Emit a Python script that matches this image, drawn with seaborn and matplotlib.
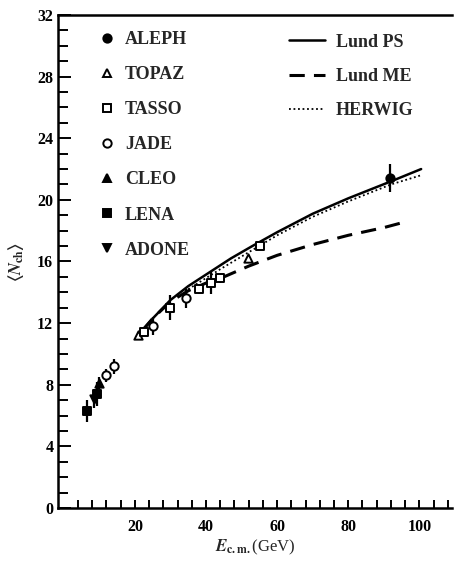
import numpy as np
import pandas as pd
import matplotlib
matplotlib.use("Agg")
import matplotlib.pyplot as plt
from matplotlib.lines import Line2D
import seaborn as sns

# ---- data ----
aleph_x = [91.7]; aleph_y = [21.4]; aleph_e = [0.9]
topaz_x = [21.0, 51.8]; topaz_y = [11.2, 16.2]; topaz_e = [0.0, 0.0]
tasso_x = [22.6, 30.0, 38.0, 41.3, 44.0, 55.2]; tasso_y = [11.4, 13.0, 14.2, 14.6, 14.9, 17.0]
tasso_e = [0.2, 0.8, 0.3, 0.7, 0.3, 0.2]
jade_x = [12.0, 14.0, 25.2, 34.5]; jade_y = [8.6, 9.2, 11.8, 13.6]; jade_e = [0.4, 0.5, 0.6, 0.6]
cleo_x = [10.0]; cleo_y = [8.1]; cleo_e = [0.4]
lena_x = [6.6, 9.2]; lena_y = [6.3, 7.4]; lena_e = [0.7, 0.8]
adone_x = [8.6]; adone_y = [7.1]; adone_e = [0.6]

ps_x = [20.5, 25, 30, 35, 41, 47, 53, 60, 70, 80, 92, 100.5]
ps_y = [11.1, 12.3, 13.5, 14.4, 15.3, 16.2, 17.0, 17.9, 19.1, 20.1, 21.2, 22.0]
me_x = [22, 25, 30, 35, 40, 45, 52, 60, 70, 80, 90, 96.5]
me_y = [11.5, 12.3, 13.4, 14.1, 14.6, 15.0, 15.7, 16.4, 17.1, 17.7, 18.2, 18.6]
hw_x = [35, 44, 52, 60, 70, 80, 92, 100.5]
hw_y = [14.2, 15.5, 16.6, 17.7, 18.9, 19.9, 21.0, 21.6]

sns.set_style("ticks")
plt.rcParams['font.family'] = ['Liberation Serif', 'DejaVu Serif']
plt.rcParams['mathtext.fontset'] = 'stix'
plt.rcParams['font.weight'] = 'bold'

fig = plt.figure(figsize=(4.54, 5.66), dpi=100)
ax = fig.add_axes([0.128, 0.1025, 0.867, 0.871])

# curves
sns.lineplot(x=ps_x, y=ps_y, ax=ax, color='black', lw=1.8, linestyle='-', sort=False)
sns.lineplot(x=me_x, y=me_y, ax=ax, color='black', lw=2.2, sort=False, dashes=False)
ax.lines[-1].set_dashes((5, 3))
sns.lineplot(x=hw_x, y=hw_y, ax=ax, color='black', lw=1.3, sort=False)
ax.lines[-1].set_linestyle((0, (1, 1.5)))

series = [
    (aleph_x, aleph_y, aleph_e, 'o', 'black'),
    (topaz_x, topaz_y, topaz_e, '^', 'white'),
    (tasso_x, tasso_y, tasso_e, 's', 'white'),
    (jade_x, jade_y, jade_e, 'o', 'white'),
    (cleo_x, cleo_y, cleo_e, '^', 'black'),
    (lena_x, lena_y, lena_e, 's', 'black'),
    (adone_x, adone_y, adone_e, 'v', 'black'),
]
for xs, ys, es, m, fc in series:
    ax.errorbar(xs, ys, yerr=es, fmt='none', ecolor='black', elinewidth=1.6, capsize=0, zorder=3)
    sns.scatterplot(x=xs, y=ys, ax=ax, marker=m, s=36, color=fc, edgecolor='black',
                    linewidth=1.4, zorder=4)

ax.set_xlim(-1.6, 109.1)
ax.set_ylim(0, 32)
ax.set_xticks([20, 40, 60, 80, 100])
ax.set_xticks(np.arange(4, 109, 4), minor=True)
ax.set_yticks(np.arange(0, 33, 4))
ax.set_yticks(np.arange(0, 33, 1), minor=True)
ax.tick_params(which='both', direction='in', width=1.4, colors='black')
ax.tick_params(axis='y', which='major', length=9, labelsize=11.5)
ax.tick_params(axis='y', which='minor', length=7)
ax.tick_params(axis='x', which='major', length=6, labelsize=11.5, pad=8)
ax.tick_params(axis='x', which='minor', length=6)
for lab in ax.get_xticklabels() + ax.get_yticklabels():
    lab.set_fontweight('bold')
for s in ['left', 'bottom', 'top']:
    ax.spines[s].set_linewidth(1.8)
    ax.spines[s].set_color('black')
ax.spines['right'].set_visible(False)

ax.set_xlabel(r'$E_{\mathrm{c.m.}}$(GeV)', fontsize=12, labelpad=2)
ax.set_ylabel(r'$\langle N_{\mathrm{ch}}\rangle$', fontsize=12, labelpad=8)

h1 = [Line2D([], [], marker=m, ls='none', color='black', markerfacecolor=fc,
             markeredgecolor='black', markersize=6, markeredgewidth=1.4)
      for _, _, _, m, fc in series]
n1 = ['ALEPH', 'TOPAZ', 'TASSO', 'JADE', 'CLEO', 'LENA', 'ADONE']
leg1 = ax.legend(h1, n1, loc='upper left', bbox_to_anchor=(0.06, 1.0), frameon=False,
                 prop={'size': 13, 'weight': 'bold'}, handlelength=1.0, handletextpad=0.5,
                 labelspacing=1.0)
ax.add_artist(leg1)

h2 = [Line2D([], [], color='black', lw=1.8),
      Line2D([], [], color='black', lw=2.2, dashes=(5, 3)),
      Line2D([], [], color='black', lw=1.3, ls=(0, (1, 1.5)))]
n2 = ['Lund PS', 'Lund ME', 'HERWIG']
ax.legend(h2, n2, loc='upper left', bbox_to_anchor=(0.545, 0.995), frameon=False,
          prop={'size': 13, 'weight': 'bold'}, handlelength=2.0, handletextpad=0.6,
          labelspacing=0.95)

fig.savefig('out.png', dpi=100)
